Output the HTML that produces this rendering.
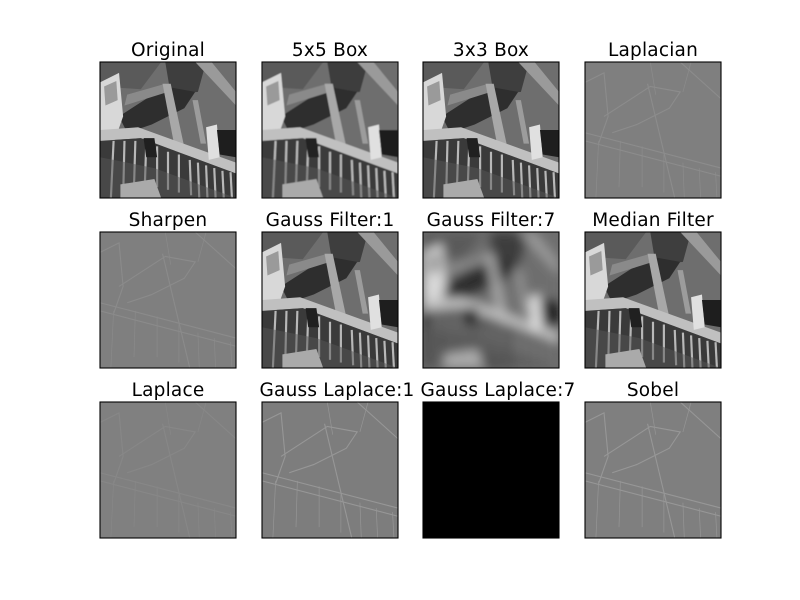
<!DOCTYPE html>
<html><head><meta charset="utf-8"><style>
html,body{margin:0;padding:0;background:#fff;}
svg{display:block;}
text{font-family:"DejaVu Sans","Liberation Sans",sans-serif;font-size:18.5px;fill:#000;letter-spacing:0.2px;}
</style></head><body>
<svg width="800" height="600" viewBox="0 0 800 600">
<defs>
 <filter id="blur7" x="0" y="0" width="1" height="1"><feGaussianBlur stdDeviation="4"/></filter>
 <filter id="blur1" x="0" y="0" width="1" height="1"><feGaussianBlur stdDeviation="0.4"/></filter>
 <clipPath id="clip"><rect x="0" y="0" width="100" height="100"/></clipPath>
 <g id="scene">
  <rect x="0" y="0" width="100" height="100" fill="#6e6e6e"/>
  <polygon points="0,0 45,0 30,20 0,18" fill="#5a5a5a"/>
  <polygon points="48,0 78,0 72,22 52,24" fill="#3e3e3e"/>
  <polygon points="14,40 48,18 70,22 62,34 38,46 20,52" fill="#2e2e2e"/>
  <polygon points="20,24 48,16 50,22 18,32" fill="#8a8a8a"/>
  <polygon points="70,0 82,0 100,22 100,32" fill="#9a9a9a"/>
  <polygon points="46,16 52,16 70,100 62,100" fill="#a8a8a8"/>
  <polygon points="68,28 72,28 78,60 74,60" fill="#9c9c9c"/>
  <polygon points="0,15 14,8 17,40 10,60 0,62" fill="#d8d8d8"/>
  <polygon points="3,18 12,14 13,28 4,32" fill="#9a9a9a"/>
  <polygon points="0,50 28,48 100,74 100,82 30,56 0,58" fill="#c0c0c0"/>
  <polygon points="0,58 30,56 100,82 100,100 0,100" fill="#3a3a3a"/>
  <g stroke="#b8b8b8" stroke-width="1.6">
   <line x1="10" y1="58" x2="8" y2="100"/><line x1="18" y1="58" x2="17" y2="100"/>
   <line x1="26" y1="58" x2="25" y2="92"/><line x1="34" y1="60" x2="33" y2="90"/>
   <line x1="42" y1="62" x2="42" y2="92"/><line x1="50" y1="66" x2="50" y2="94"/>
   <line x1="58" y1="68" x2="58" y2="96"/><line x1="66" y1="72" x2="67" y2="98"/>
   <line x1="72" y1="74" x2="73" y2="100"/><line x1="78" y1="76" x2="79" y2="100"/>
   <line x1="84" y1="78" x2="85" y2="100"/><line x1="90" y1="80" x2="91" y2="100"/>
   <line x1="96" y1="81" x2="97" y2="100"/>
  </g>
  <polygon points="0,70 40,78 100,100 0,100" fill="#555" opacity="0.5"/>
  <polygon points="15,90 40,86 45,100 15,100" fill="#aaa"/>
  <polygon points="78,48 86,46 88,70 80,72" fill="#e0e0e0"/>
  <polygon points="86,50 100,50 100,70 88,68" fill="#1e1e1e"/>
  <polygon points="32,56 40,56 42,70 34,70" fill="#202020"/>
 </g>
 <g id="edges" fill="none" stroke="#9a9a9a" stroke-width="0.8">
  <polyline points="14,40 48,18 70,22 62,34 38,46 20,52"/>
  <line x1="46" y1="16" x2="66" y2="100"/><line x1="70" y1="0" x2="100" y2="27"/>
  <line x1="0" y1="52" x2="100" y2="78"/><line x1="0" y1="58" x2="100" y2="84"/>
  <polyline points="0,15 14,8 17,40 10,60"/>
  <g stroke-width="0.5" stroke="#999">
   <line x1="10" y1="58" x2="8" y2="100"/><line x1="26" y1="58" x2="25" y2="92"/>
   <line x1="42" y1="62" x2="42" y2="92"/><line x1="58" y1="68" x2="58" y2="96"/>
   <line x1="72" y1="74" x2="73" y2="100"/><line x1="84" y1="78" x2="85" y2="100"/>
   <line x1="96" y1="81" x2="97" y2="100"/>
   <line x1="48" y1="0" x2="52" y2="24"/><line x1="78" y1="0" x2="72" y2="22"/>
  </g>
 </g>
</defs>

<g transform="translate(100,62) scale(1.36)">
 <g clip-path="url(#clip)"><use href="#scene"/></g>
 <rect width="100" height="100" fill="none" stroke="#000" stroke-width="0.8"/></g>
<g transform="translate(262,62) scale(1.36)">
 <g clip-path="url(#clip)" filter="url(#blur1)"><use href="#scene"/></g>
 <rect width="100" height="100" fill="none" stroke="#000" stroke-width="0.8"/></g>
<g transform="translate(423,62) scale(1.36)">
 <g clip-path="url(#clip)"><use href="#scene"/></g>
 <rect width="100" height="100" fill="none" stroke="#000" stroke-width="0.8"/></g>
<g transform="translate(585,62) scale(1.36)">
 <rect width="100" height="100" fill="#7f7f7f"/><g opacity="0.5"><use href="#edges"/></g>
 <rect width="100" height="100" fill="none" stroke="#000" stroke-width="0.8"/></g>

<g transform="translate(100,232) scale(1.36)">
 <rect width="100" height="100" fill="#7f7f7f"/><g opacity="0.45"><use href="#edges"/></g>
 <rect width="100" height="100" fill="none" stroke="#000" stroke-width="0.8"/></g>
<g transform="translate(262,232) scale(1.36)">
 <g clip-path="url(#clip)"><use href="#scene"/></g>
 <rect width="100" height="100" fill="none" stroke="#000" stroke-width="0.8"/></g>
<g transform="translate(423,232) scale(1.36)">
 <rect width="100" height="100" fill="#6e6e6e"/>
 <g clip-path="url(#clip)" filter="url(#blur7)"><use href="#scene"/></g>
 <rect width="100" height="100" fill="none" stroke="#000" stroke-width="0.8"/></g>
<g transform="translate(585,232) scale(1.36)">
 <g clip-path="url(#clip)"><use href="#scene"/></g>
 <rect width="100" height="100" fill="none" stroke="#000" stroke-width="0.8"/></g>

<g transform="translate(100,402) scale(1.36)">
 <rect width="100" height="100" fill="#808080"/><g opacity="0.3"><use href="#edges"/></g>
 <rect width="100" height="100" fill="none" stroke="#000" stroke-width="0.8"/></g>
<g transform="translate(262,402) scale(1.36)">
 <rect width="100" height="100" fill="#7d7d7d"/><g opacity="0.9"><use href="#edges"/></g>
 <rect width="100" height="100" fill="none" stroke="#000" stroke-width="0.8"/></g>
<g transform="translate(423,402) scale(1.36)">
 <rect width="100" height="100" fill="#000"/>
 <rect width="100" height="100" fill="none" stroke="#000" stroke-width="0.8"/></g>
<g transform="translate(585,402) scale(1.36)">
 <rect width="100" height="100" fill="#7f7f7f"/><g opacity="0.9"><use href="#edges"/></g>
 <rect width="100" height="100" fill="none" stroke="#000" stroke-width="0.8"/></g>

<text x="168" y="56" text-anchor="middle">Original</text>
<text x="330" y="56" text-anchor="middle">5x5 Box</text>
<text x="491" y="56" text-anchor="middle">3x3 Box</text>
<text x="653" y="56" text-anchor="middle">Laplacian</text>
<text x="168" y="226" text-anchor="middle">Sharpen</text>
<text x="330" y="226" text-anchor="middle">Gauss Filter:1</text>
<text x="491" y="226" text-anchor="middle">Gauss Filter:7</text>
<text x="653" y="226" text-anchor="middle">Median Filter</text>
<text x="168" y="396" text-anchor="middle">Laplace</text>
<text x="337" y="396" text-anchor="middle">Gauss Laplace:1</text>
<text x="498" y="396" text-anchor="middle">Gauss Laplace:7</text>
<text x="653" y="396" text-anchor="middle">Sobel</text>
</svg>
</body></html>
